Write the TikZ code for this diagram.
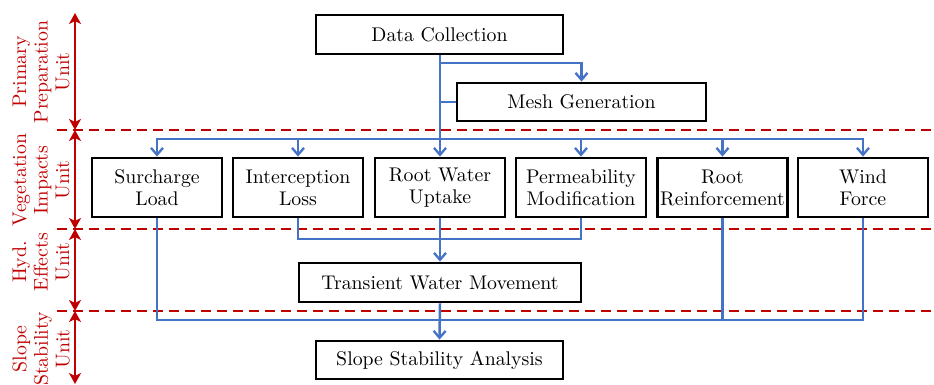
\documentclass[tikz,border=0pt]{standalone}
\usepackage{fontspec}
\setmainfont{lmroman10}[Extension=.otf, UprightFont=*-regular, BoldFont=*-bold, ItalicFont=*-italic, BoldItalicFont=*-bolditalic]
\usetikzlibrary{arrows.meta}
\definecolor{ured}{HTML}{C00000}
\definecolor{ublue}{HTML}{4472C4}
\tikzset{
  box/.style={draw=black, line width=2.8pt, fill=white, inner sep=0pt, align=center,
    font=\fontsize{19.8}{22}\selectfont},
  vbox/.style={box, minimum width=130pt, minimum height=59pt},
  flow/.style={draw=ublue, line width=2.5pt},
  flowarr/.style={flow, -{Straight Barb[length=7pt,width=12pt,line width=2.3pt]}},
  reddash/.style={draw=ured, line width=2.6pt, dash pattern=on 10pt off 6pt},
  redarr/.style={draw=ured, line width=2.2pt, {Stealth[length=11pt,width=12pt,inset=3pt]}-{Stealth[length=11pt,width=12pt,inset=3pt]}},
  unitlabel/.style={text=ured, rotate=90, align=center, inner sep=0pt,
    font=\fontsize{19.8}{21.5}\selectfont}
}
\begin{document}
\begin{tikzpicture}[x=1pt,y=-1pt]
\useasboundingbox (0,0) rectangle (934,385);
% dashed unit separators
\draw[reddash] (57,130) -- (934,130);
\draw[reddash] (57,229) -- (934,229);
\draw[reddash] (57,311) -- (934,311);
% unit arrows
\coordinate (u0) at (75,13);
\coordinate (u1) at (75,130);
\coordinate (u2) at (75,229);
\coordinate (u3) at (75,311);
\coordinate (u4) at (75,384);
\draw[redarr] (u0) -- (u1);
\draw[redarr] (u1) -- (u2);
\draw[redarr] (u2) -- (u3);
\draw[redarr] (u3) -- (u4);
% unit labels
\node[unitlabel] (l1) at (41,72) {Primary\\Preparation\\Unit};
\node[unitlabel] (l2) at (41,180) {Vegetation\\Impacts\\Unit};
\node[unitlabel] (l3) at (41,262) {Hyd.\\Effects\\Unit};
\node[unitlabel] (l4) at (41,349) {Slope\\Stability\\Unit};
% boxes
\node[box, minimum width=247pt, minimum height=39pt] (dc) at (439.5,34.5) {Data Collection};
\node[box, minimum width=249pt, minimum height=38pt] (mg) at (581.5,102) {Mesh Generation};
\node[vbox] (sl) at (157,187.5) {Surcharge\\Load};
\node[vbox] (il) at (298,187.5) {Interception\\Loss};
\node[vbox] (rw) at (440,187.5) {Root Water\\Uptake};
\node[vbox] (pm) at (581,187.5) {Permeability\\Modification};
\node[vbox] (rr) at (722.5,187.5) {Root\\Reinforcement};
\node[vbox] (wf) at (863,187.5) {Wind\\Force};
\node[box, minimum width=282pt, minimum height=39pt] (tw) at (440,282.5) {Transient Water Movement};
\node[box, minimum width=247pt, minimum height=38pt] (ss) at (439.5,360) {Slope Stability Analysis};
% bus coordinates
\coordinate (bm) at (440,63);
\coordinate (bt) at (440,139);
\coordinate (bh) at (440,239);
\coordinate (bs) at (440,320);
% connectors
\draw[flow] (dc.south -| bt) -- (bt);
\draw[flowarr] (bm) -| (mg.north);
\draw[flow] (mg.west) -- (mg.west -| bt);
\draw[flowarr] (bt) -| (sl.north);
\draw[flowarr] (bt) -| (il.north);
\draw[flowarr] (bt) -- (rw.north);
\draw[flowarr] (bt) -| (pm.north);
\draw[flowarr] (bt) -| (rr.north);
\draw[flowarr] (bt) -| (wf.north);
\draw[flow] (il.south) |- (bh);
\draw[flow] (pm.south) |- (bh);
\draw[flowarr] (rw.south) -- (tw.north);
\draw[flow] (sl.south) |- (bs);
\draw[flow] (rr.south) |- (bs);
\draw[flow] (wf.south) |- (bs);
\draw[flowarr] (tw.south) -- (ss.north);
\end{tikzpicture}
\end{document}
